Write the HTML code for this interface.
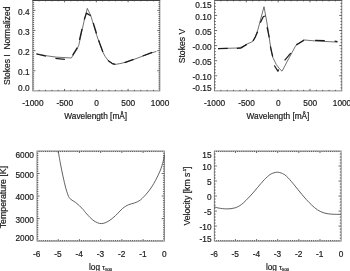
<!DOCTYPE html>
<html><head><meta charset="utf-8"><title>Stokes profiles and model atmosphere</title>
<style>
html,body{margin:0;padding:0;background:#fff;}
body{width:350px;height:271px;overflow:hidden;}
svg{display:block;will-change:transform;font-family:"Liberation Sans",sans-serif;fill:#1a1a1a;}
text{stroke:#1a1a1a;stroke-width:0.2;}
.s{fill:none;stroke:#333;stroke-width:0.7;stroke-linejoin:round;}
.s2{fill:none;stroke:#444;stroke-width:0.85;stroke-linejoin:round;}
.d{fill:none;stroke:#1c1c1c;stroke-width:1.25;stroke-linejoin:round;}
</style></head><body>
<svg width="350" height="271" viewBox="0 0 350 271">
<rect width="350" height="271" fill="#fff"/>
<rect x="32.8" y="0.33" width="127.05" height="90.57" fill="none" stroke="#666" stroke-width="0.8"/>
<path d="M39.15 90.9v-1.05M39.15 0.33v1.05M45.5 90.9v-1.05M45.5 0.33v1.05M51.86 90.9v-1.05M51.86 0.33v1.05M58.21 90.9v-1.05M58.21 0.33v1.05M64.56 90.9v-2M64.56 0.33v2M70.92 90.9v-1.05M70.92 0.33v1.05M77.27 90.9v-1.05M77.27 0.33v1.05M83.62 90.9v-1.05M83.62 0.33v1.05M89.97 90.9v-1.05M89.97 0.33v1.05M96.33 90.9v-2M96.33 0.33v2M102.68 90.9v-1.05M102.68 0.33v1.05M109.03 90.9v-1.05M109.03 0.33v1.05M115.38 90.9v-1.05M115.38 0.33v1.05M121.74 90.9v-1.05M121.74 0.33v1.05M128.09 90.9v-2M128.09 0.33v2M134.44 90.9v-1.05M134.44 0.33v1.05M140.79 90.9v-1.05M140.79 0.33v1.05M147.15 90.9v-1.05M147.15 0.33v1.05M153.5 90.9v-1.05M153.5 0.33v1.05M32.8 2.35h1.35M159.85 2.35h-1.35M32.8 4.36h1.35M159.85 4.36h-1.35M32.8 6.38h1.35M159.85 6.38h-1.35M32.8 8.39h1.35M159.85 8.39h-1.35M32.8 10.4h2.6M159.85 10.4h-2.6M32.8 12.41h1.35M159.85 12.41h-1.35M32.8 14.43h1.35M159.85 14.43h-1.35M32.8 16.44h1.35M159.85 16.44h-1.35M32.8 18.45h1.35M159.85 18.45h-1.35M32.8 20.46h1.35M159.85 20.46h-1.35M32.8 22.48h1.35M159.85 22.48h-1.35M32.8 24.49h1.35M159.85 24.49h-1.35M32.8 26.5h1.35M159.85 26.5h-1.35M32.8 28.51h1.35M159.85 28.51h-1.35M32.8 30.53h2.6M159.85 30.53h-2.6M32.8 32.54h1.35M159.85 32.54h-1.35M32.8 34.55h1.35M159.85 34.55h-1.35M32.8 36.56h1.35M159.85 36.56h-1.35M32.8 38.58h1.35M159.85 38.58h-1.35M32.8 40.59h1.35M159.85 40.59h-1.35M32.8 42.6h1.35M159.85 42.6h-1.35M32.8 44.61h1.35M159.85 44.61h-1.35M32.8 46.63h1.35M159.85 46.63h-1.35M32.8 48.64h1.35M159.85 48.64h-1.35M32.8 50.65h2.6M159.85 50.65h-2.6M32.8 52.66h1.35M159.85 52.66h-1.35M32.8 54.68h1.35M159.85 54.68h-1.35M32.8 56.69h1.35M159.85 56.69h-1.35M32.8 58.7h1.35M159.85 58.7h-1.35M32.8 60.71h1.35M159.85 60.71h-1.35M32.8 62.73h1.35M159.85 62.73h-1.35M32.8 64.74h1.35M159.85 64.74h-1.35M32.8 66.75h1.35M159.85 66.75h-1.35M32.8 68.76h1.35M159.85 68.76h-1.35M32.8 70.78h2.6M159.85 70.78h-2.6M32.8 72.79h1.35M159.85 72.79h-1.35M32.8 74.8h1.35M159.85 74.8h-1.35M32.8 76.81h1.35M159.85 76.81h-1.35M32.8 78.83h1.35M159.85 78.83h-1.35M32.8 80.84h1.35M159.85 80.84h-1.35M32.8 82.85h1.35M159.85 82.85h-1.35M32.8 84.86h1.35M159.85 84.86h-1.35M32.8 86.88h1.35M159.85 86.88h-1.35M32.8 88.89h1.35M159.85 88.89h-1.35" stroke="#2a2a2a" stroke-width="0.7" fill="none"/>
<text transform="translate(32.9 106.1) scale(0.96 1)" text-anchor="middle" font-size="8.65" >-1000</text>
<text transform="translate(64.76 106.1) scale(0.96 1)" text-anchor="middle" font-size="8.65" >-500</text>
<text transform="translate(96.52 106.1) scale(0.96 1)" text-anchor="middle" font-size="8.65" >0</text>
<text transform="translate(128.29 106.1) scale(0.96 1)" text-anchor="middle" font-size="8.65" >500</text>
<text transform="translate(160.05 106.1) scale(0.96 1)" text-anchor="middle" font-size="8.65" >1000</text>
<text transform="translate(29.6 91.2) scale(0.96 1)" text-anchor="end" font-size="8.65" >0.0</text>
<text transform="translate(29.6 75.03) scale(0.96 1)" text-anchor="end" font-size="8.65" >0.1</text>
<text transform="translate(29.6 54.9) scale(0.96 1)" text-anchor="end" font-size="8.65" >0.2</text>
<text transform="translate(29.6 34.78) scale(0.96 1)" text-anchor="end" font-size="8.65" >0.3</text>
<text transform="translate(29.6 14.65) scale(0.96 1)" text-anchor="end" font-size="8.65" >0.4</text>
<text transform="translate(95.7 118.9) scale(0.96 1)" text-anchor="middle" font-size="8.65" >Wavelength [mÅ]</text>
<text transform="translate(9.6 45.8) rotate(-90) scale(1 0.96)" text-anchor="middle" font-size="8.5">Stokes I&#160; Normalized</text>
<path d="M36.4 53.7L45.9 55.7L56.3 57.1L71.3 58L77 49.2L78.7 45.5L79.7 41L84.3 20L87.3 8.4L90.8 15.7L92.6 21.7L95.1 30L96.4 34.3L99.4 42.9L102.4 51.1L105 56.3L108.9 61.4L112.3 63.6L115.3 64.4L120 63.6L126 62.2L133.6 59.5L142.6 56.2L152.2 52.7L156.4 51.4" class="s"/>
<path d="M36.4 54L45.9 56.1" class="d"/>
<path d="M55.4 58.4L64.9 59.3" class="d"/>
<path d="M72.6 55.4L77.3 47.7" class="d"/>
<path d="M79.5 40L82 29" class="d"/>
<path d="M84.3 19.5L86.4 13.1L90.7 15.7" class="d"/>
<path d="M93.3 23L96.5 33.5" class="d"/>
<path d="M98.6 40.3L102.9 52" class="d"/>
<path d="M108 60.6L112.3 63.6L115.3 64.4" class="d"/>
<path d="M124.6 62.6L133.6 59.4" class="d"/>
<path d="M142.6 56L152.2 52.4" class="d"/>
<path d="M32.4 0.5H160.1M214.1 0.5H342.2" stroke="#404040" stroke-width="1" fill="none"/>
<rect x="214.5" y="0.33" width="127.3" height="90.57" fill="none" stroke="#666" stroke-width="0.8"/>
<path d="M220.87 90.9v-1.05M220.87 0.33v1.05M227.23 90.9v-1.05M227.23 0.33v1.05M233.59 90.9v-1.05M233.59 0.33v1.05M239.96 90.9v-1.05M239.96 0.33v1.05M246.32 90.9v-2M246.32 0.33v2M252.69 90.9v-1.05M252.69 0.33v1.05M259.06 90.9v-1.05M259.06 0.33v1.05M265.42 90.9v-1.05M265.42 0.33v1.05M271.78 90.9v-1.05M271.78 0.33v1.05M278.15 90.9v-2M278.15 0.33v2M284.51 90.9v-1.05M284.51 0.33v1.05M290.88 90.9v-1.05M290.88 0.33v1.05M297.24 90.9v-1.05M297.24 0.33v1.05M303.61 90.9v-1.05M303.61 0.33v1.05M309.97 90.9v-2M309.97 0.33v2M316.34 90.9v-1.05M316.34 0.33v1.05M322.7 90.9v-1.05M322.7 0.33v1.05M329.07 90.9v-1.05M329.07 0.33v1.05M335.43 90.9v-1.05M335.43 0.33v1.05M214.5 3.35h1.35M341.8 3.35h-1.35M214.5 6.37h1.35M341.8 6.37h-1.35M214.5 9.39h1.35M341.8 9.39h-1.35M214.5 12.41h1.35M341.8 12.41h-1.35M214.5 15.43h2.6M341.8 15.43h-2.6M214.5 18.44h1.35M341.8 18.44h-1.35M214.5 21.46h1.35M341.8 21.46h-1.35M214.5 24.48h1.35M341.8 24.48h-1.35M214.5 27.5h1.35M341.8 27.5h-1.35M214.5 30.52h2.6M341.8 30.52h-2.6M214.5 33.54h1.35M341.8 33.54h-1.35M214.5 36.56h1.35M341.8 36.56h-1.35M214.5 39.58h1.35M341.8 39.58h-1.35M214.5 42.6h1.35M341.8 42.6h-1.35M214.5 45.62h2.6M341.8 45.62h-2.6M214.5 48.63h1.35M341.8 48.63h-1.35M214.5 51.65h1.35M341.8 51.65h-1.35M214.5 54.67h1.35M341.8 54.67h-1.35M214.5 57.69h1.35M341.8 57.69h-1.35M214.5 60.71h2.6M341.8 60.71h-2.6M214.5 63.73h1.35M341.8 63.73h-1.35M214.5 66.75h1.35M341.8 66.75h-1.35M214.5 69.77h1.35M341.8 69.77h-1.35M214.5 72.79h1.35M341.8 72.79h-1.35M214.5 75.81h2.6M341.8 75.81h-2.6M214.5 78.82h1.35M341.8 78.82h-1.35M214.5 81.84h1.35M341.8 81.84h-1.35M214.5 84.86h1.35M341.8 84.86h-1.35M214.5 87.88h1.35M341.8 87.88h-1.35" stroke="#2a2a2a" stroke-width="0.7" fill="none"/>
<text transform="translate(214.6 106.1) scale(0.96 1)" text-anchor="middle" font-size="8.65" >-1000</text>
<text transform="translate(246.52 106.1) scale(0.96 1)" text-anchor="middle" font-size="8.65" >-500</text>
<text transform="translate(278.35 106.1) scale(0.96 1)" text-anchor="middle" font-size="8.65" >0</text>
<text transform="translate(310.18 106.1) scale(0.96 1)" text-anchor="middle" font-size="8.65" >500</text>
<text transform="translate(342 106.1) scale(0.96 1)" text-anchor="middle" font-size="8.65" >1000</text>
<text transform="translate(211.5 8.1) scale(0.96 1)" text-anchor="end" font-size="8.65" >0.15</text>
<text transform="translate(211.5 19.53) scale(0.96 1)" text-anchor="end" font-size="8.65" >0.10</text>
<text transform="translate(211.5 34.62) scale(0.96 1)" text-anchor="end" font-size="8.65" >0.05</text>
<text transform="translate(211.5 49.72) scale(0.96 1)" text-anchor="end" font-size="8.65" >-0.00</text>
<text transform="translate(211.5 64.81) scale(0.96 1)" text-anchor="end" font-size="8.65" >-0.05</text>
<text transform="translate(211.5 79.91) scale(0.96 1)" text-anchor="end" font-size="8.65" >-0.10</text>
<text transform="translate(211.5 91.3) scale(0.96 1)" text-anchor="end" font-size="8.65" >-0.15</text>
<text transform="translate(278 118.9) scale(0.96 1)" text-anchor="middle" font-size="8.65" >Wavelength [mÅ]</text>
<text transform="translate(184.5 46) rotate(-90) scale(1 0.96)" text-anchor="middle" font-size="8.65">Stokes V</text>
<path d="M218 48.6L236.9 48L242.1 47L246.8 44.2L252.5 41.6L255.1 37.4L257.8 30L264 6.7L266.8 22L268.1 30L271 50L272.7 57.2L276.3 64.5L279.4 68.6L282 71.2L285.1 65.5L288.8 58.3L293.4 50L295.8 45.4L303.6 39.9L316 41L337.3 42.1" class="s"/>
<path d="M218 48.7L227.7 48.4" class="d"/>
<path d="M236.9 48.3L240.7 48.1L246.8 44.4" class="d"/>
<path d="M253 41L255.1 37.4L257.6 31.8" class="d"/>
<path d="M260.3 22.7L263.4 16.5L265.5 16" class="d"/>
<path d="M267.1 27.2L269.2 37.5" class="d"/>
<path d="M270.4 46.3L272.7 56.7" class="d"/>
<path d="M274.3 65.5L277.9 71.2L278.7 69.5" class="d"/>
<path d="M284.6 60.3L290.8 53.1" class="d"/>
<path d="M296.3 44.9L304.1 40.3" class="d"/>
<path d="M315.1 40.3L324.8 40.7" class="d"/>
<path d="M334.6 41.2L337.5 41.6" class="d"/>
<rect x="37" y="151" width="127.3" height="90.1" fill="none" stroke="#666" stroke-width="0.8"/>
<path d="M39.12 241.1v-1.05M39.12 151v1.05M41.24 241.1v-1.05M41.24 151v1.05M43.37 241.1v-1.05M43.37 151v1.05M45.49 241.1v-1.05M45.49 151v1.05M47.61 241.1v-1.05M47.61 151v1.05M49.73 241.1v-1.05M49.73 151v1.05M51.85 241.1v-1.05M51.85 151v1.05M53.97 241.1v-1.05M53.97 151v1.05M56.09 241.1v-1.05M56.09 151v1.05M58.22 241.1v-2M58.22 151v2M60.34 241.1v-1.05M60.34 151v1.05M62.46 241.1v-1.05M62.46 151v1.05M64.58 241.1v-1.05M64.58 151v1.05M66.7 241.1v-1.05M66.7 151v1.05M68.83 241.1v-1.05M68.83 151v1.05M70.95 241.1v-1.05M70.95 151v1.05M73.07 241.1v-1.05M73.07 151v1.05M75.19 241.1v-1.05M75.19 151v1.05M77.31 241.1v-1.05M77.31 151v1.05M79.43 241.1v-2M79.43 151v2M81.56 241.1v-1.05M81.56 151v1.05M83.68 241.1v-1.05M83.68 151v1.05M85.8 241.1v-1.05M85.8 151v1.05M87.92 241.1v-1.05M87.92 151v1.05M90.04 241.1v-1.05M90.04 151v1.05M92.16 241.1v-1.05M92.16 151v1.05M94.29 241.1v-1.05M94.29 151v1.05M96.41 241.1v-1.05M96.41 151v1.05M98.53 241.1v-1.05M98.53 151v1.05M100.65 241.1v-2M100.65 151v2M102.77 241.1v-1.05M102.77 151v1.05M104.89 241.1v-1.05M104.89 151v1.05M107.02 241.1v-1.05M107.02 151v1.05M109.14 241.1v-1.05M109.14 151v1.05M111.26 241.1v-1.05M111.26 151v1.05M113.38 241.1v-1.05M113.38 151v1.05M115.5 241.1v-1.05M115.5 151v1.05M117.62 241.1v-1.05M117.62 151v1.05M119.75 241.1v-1.05M119.75 151v1.05M121.87 241.1v-2M121.87 151v2M123.99 241.1v-1.05M123.99 151v1.05M126.11 241.1v-1.05M126.11 151v1.05M128.23 241.1v-1.05M128.23 151v1.05M130.35 241.1v-1.05M130.35 151v1.05M132.48 241.1v-1.05M132.48 151v1.05M134.6 241.1v-1.05M134.6 151v1.05M136.72 241.1v-1.05M136.72 151v1.05M138.84 241.1v-1.05M138.84 151v1.05M140.96 241.1v-1.05M140.96 151v1.05M143.08 241.1v-2M143.08 151v2M145.21 241.1v-1.05M145.21 151v1.05M147.33 241.1v-1.05M147.33 151v1.05M149.45 241.1v-1.05M149.45 151v1.05M151.57 241.1v-1.05M151.57 151v1.05M153.69 241.1v-1.05M153.69 151v1.05M155.81 241.1v-1.05M155.81 151v1.05M157.94 241.1v-1.05M157.94 151v1.05M160.06 241.1v-1.05M160.06 151v1.05M162.18 241.1v-1.05M162.18 151v1.05M37 153.25h1.35M164.3 153.25h-1.35M37 155.5h1.35M164.3 155.5h-1.35M37 157.76h1.35M164.3 157.76h-1.35M37 160.01h1.35M164.3 160.01h-1.35M37 162.26h1.35M164.3 162.26h-1.35M37 164.52h1.35M164.3 164.52h-1.35M37 166.77h1.35M164.3 166.77h-1.35M37 169.02h1.35M164.3 169.02h-1.35M37 171.27h1.35M164.3 171.27h-1.35M37 173.53h2.6M164.3 173.53h-2.6M37 175.78h1.35M164.3 175.78h-1.35M37 178.03h1.35M164.3 178.03h-1.35M37 180.28h1.35M164.3 180.28h-1.35M37 182.53h1.35M164.3 182.53h-1.35M37 184.79h1.35M164.3 184.79h-1.35M37 187.04h1.35M164.3 187.04h-1.35M37 189.29h1.35M164.3 189.29h-1.35M37 191.55h1.35M164.3 191.55h-1.35M37 193.8h1.35M164.3 193.8h-1.35M37 196.05h2.6M164.3 196.05h-2.6M37 198.3h1.35M164.3 198.3h-1.35M37 200.56h1.35M164.3 200.56h-1.35M37 202.81h1.35M164.3 202.81h-1.35M37 205.06h1.35M164.3 205.06h-1.35M37 207.31h1.35M164.3 207.31h-1.35M37 209.56h1.35M164.3 209.56h-1.35M37 211.82h1.35M164.3 211.82h-1.35M37 214.07h1.35M164.3 214.07h-1.35M37 216.32h1.35M164.3 216.32h-1.35M37 218.58h2.6M164.3 218.58h-2.6M37 220.83h1.35M164.3 220.83h-1.35M37 223.08h1.35M164.3 223.08h-1.35M37 225.33h1.35M164.3 225.33h-1.35M37 227.59h1.35M164.3 227.59h-1.35M37 229.84h1.35M164.3 229.84h-1.35M37 232.09h1.35M164.3 232.09h-1.35M37 234.34h1.35M164.3 234.34h-1.35M37 236.6h1.35M164.3 236.6h-1.35M37 238.85h1.35M164.3 238.85h-1.35" stroke="#2a2a2a" stroke-width="0.7" fill="none"/>
<text transform="translate(36.8 257) scale(0.96 1)" text-anchor="middle" font-size="8.65" >-6</text>
<text transform="translate(58.02 257) scale(0.96 1)" text-anchor="middle" font-size="8.65" >-5</text>
<text transform="translate(79.23 257) scale(0.96 1)" text-anchor="middle" font-size="8.65" >-4</text>
<text transform="translate(100.45 257) scale(0.96 1)" text-anchor="middle" font-size="8.65" >-3</text>
<text transform="translate(121.67 257) scale(0.96 1)" text-anchor="middle" font-size="8.65" >-2</text>
<text transform="translate(142.88 257) scale(0.96 1)" text-anchor="middle" font-size="8.65" >-1</text>
<text transform="translate(164.3 257) scale(0.96 1)" text-anchor="middle" font-size="8.65" >0</text>
<text transform="translate(33.9 158.2) scale(0.96 1)" text-anchor="end" font-size="8.65" >6000</text>
<text transform="translate(33.9 177.93) scale(0.96 1)" text-anchor="end" font-size="8.65" >5000</text>
<text transform="translate(33.9 200.15) scale(0.96 1)" text-anchor="end" font-size="8.65" >4000</text>
<text transform="translate(33.9 223.27) scale(0.96 1)" text-anchor="end" font-size="8.65" >3000</text>
<text transform="translate(33.9 241.3) scale(0.96 1)" text-anchor="end" font-size="8.65" >2000</text>
<text transform="translate(89 269.7) scale(0.96 1)" font-size="8.65">log <tspan font-size="7.5">τ</tspan><tspan font-size="4.3" dy="1.2">500</tspan></text>
<text transform="translate(6.3 197.1) rotate(-90) scale(1 0.96)" text-anchor="middle" font-size="8.8">Temperature [K]</text>
<path d="M58.2 151C58.58 153.17 59.72 159.85 60.5 164C61.28 168.15 61.98 171.75 62.9 175.9C63.82 180.05 65.05 185.48 66 188.9C66.95 192.32 67.78 194.65 68.6 196.4C69.42 198.15 69.77 198.42 70.9 199.4C72.03 200.38 74 201.27 75.4 202.3C76.8 203.33 78.02 204.4 79.3 205.6C80.58 206.8 81.85 208.1 83.1 209.5C84.35 210.9 84.98 212.1 86.8 214C88.62 215.9 91.57 219.3 94 220.9C96.43 222.5 98.92 223.6 101.4 223.6C103.88 223.6 106.57 222.22 108.9 220.9C111.23 219.58 113.08 217.8 115.4 215.7C117.72 213.6 120.58 210.13 122.8 208.3C125.02 206.47 126.73 205.6 128.7 204.7C130.67 203.8 132.63 203.7 134.6 202.9C136.57 202.1 138.27 201.72 140.5 199.9C142.73 198.08 145.77 194.77 148 192C150.23 189.23 151.9 186.78 153.9 183.3C155.9 179.82 158.45 174.75 160 171.1C161.55 167.45 162.47 164.03 163.2 161.4C163.93 158.77 164.2 156.32 164.4 155.3" class="s2"/>
<rect x="214.3" y="151" width="126.8" height="90.1" fill="none" stroke="#666" stroke-width="0.8"/>
<path d="M216.41 241.1v-1.05M216.41 151v1.05M218.53 241.1v-1.05M218.53 151v1.05M220.64 241.1v-1.05M220.64 151v1.05M222.75 241.1v-1.05M222.75 151v1.05M224.87 241.1v-1.05M224.87 151v1.05M226.98 241.1v-1.05M226.98 151v1.05M229.09 241.1v-1.05M229.09 151v1.05M231.21 241.1v-1.05M231.21 151v1.05M233.32 241.1v-1.05M233.32 151v1.05M235.43 241.1v-2M235.43 151v2M237.55 241.1v-1.05M237.55 151v1.05M239.66 241.1v-1.05M239.66 151v1.05M241.77 241.1v-1.05M241.77 151v1.05M243.89 241.1v-1.05M243.89 151v1.05M246 241.1v-1.05M246 151v1.05M248.11 241.1v-1.05M248.11 151v1.05M250.23 241.1v-1.05M250.23 151v1.05M252.34 241.1v-1.05M252.34 151v1.05M254.45 241.1v-1.05M254.45 151v1.05M256.57 241.1v-2M256.57 151v2M258.68 241.1v-1.05M258.68 151v1.05M260.79 241.1v-1.05M260.79 151v1.05M262.91 241.1v-1.05M262.91 151v1.05M265.02 241.1v-1.05M265.02 151v1.05M267.13 241.1v-1.05M267.13 151v1.05M269.25 241.1v-1.05M269.25 151v1.05M271.36 241.1v-1.05M271.36 151v1.05M273.47 241.1v-1.05M273.47 151v1.05M275.59 241.1v-1.05M275.59 151v1.05M277.7 241.1v-2M277.7 151v2M279.81 241.1v-1.05M279.81 151v1.05M281.93 241.1v-1.05M281.93 151v1.05M284.04 241.1v-1.05M284.04 151v1.05M286.15 241.1v-1.05M286.15 151v1.05M288.27 241.1v-1.05M288.27 151v1.05M290.38 241.1v-1.05M290.38 151v1.05M292.49 241.1v-1.05M292.49 151v1.05M294.61 241.1v-1.05M294.61 151v1.05M296.72 241.1v-1.05M296.72 151v1.05M298.83 241.1v-2M298.83 151v2M300.95 241.1v-1.05M300.95 151v1.05M303.06 241.1v-1.05M303.06 151v1.05M305.17 241.1v-1.05M305.17 151v1.05M307.29 241.1v-1.05M307.29 151v1.05M309.4 241.1v-1.05M309.4 151v1.05M311.51 241.1v-1.05M311.51 151v1.05M313.63 241.1v-1.05M313.63 151v1.05M315.74 241.1v-1.05M315.74 151v1.05M317.85 241.1v-1.05M317.85 151v1.05M319.97 241.1v-2M319.97 151v2M322.08 241.1v-1.05M322.08 151v1.05M324.19 241.1v-1.05M324.19 151v1.05M326.31 241.1v-1.05M326.31 151v1.05M328.42 241.1v-1.05M328.42 151v1.05M330.53 241.1v-1.05M330.53 151v1.05M332.65 241.1v-1.05M332.65 151v1.05M334.76 241.1v-1.05M334.76 151v1.05M336.87 241.1v-1.05M336.87 151v1.05M338.99 241.1v-1.05M338.99 151v1.05M214.3 154h1.35M341.1 154h-1.35M214.3 157.01h1.35M341.1 157.01h-1.35M214.3 160.01h1.35M341.1 160.01h-1.35M214.3 163.01h1.35M341.1 163.01h-1.35M214.3 166.02h2.6M341.1 166.02h-2.6M214.3 169.02h1.35M341.1 169.02h-1.35M214.3 172.02h1.35M341.1 172.02h-1.35M214.3 175.03h1.35M341.1 175.03h-1.35M214.3 178.03h1.35M341.1 178.03h-1.35M214.3 181.03h2.6M341.1 181.03h-2.6M214.3 184.04h1.35M341.1 184.04h-1.35M214.3 187.04h1.35M341.1 187.04h-1.35M214.3 190.04h1.35M341.1 190.04h-1.35M214.3 193.05h1.35M341.1 193.05h-1.35M214.3 196.05h2.6M341.1 196.05h-2.6M214.3 199.05h1.35M341.1 199.05h-1.35M214.3 202.06h1.35M341.1 202.06h-1.35M214.3 205.06h1.35M341.1 205.06h-1.35M214.3 208.06h1.35M341.1 208.06h-1.35M214.3 211.07h2.6M341.1 211.07h-2.6M214.3 214.07h1.35M341.1 214.07h-1.35M214.3 217.07h1.35M341.1 217.07h-1.35M214.3 220.08h1.35M341.1 220.08h-1.35M214.3 223.08h1.35M341.1 223.08h-1.35M214.3 226.08h2.6M341.1 226.08h-2.6M214.3 229.09h1.35M341.1 229.09h-1.35M214.3 232.09h1.35M341.1 232.09h-1.35M214.3 235.09h1.35M341.1 235.09h-1.35M214.3 238.1h1.35M341.1 238.1h-1.35" stroke="#2a2a2a" stroke-width="0.7" fill="none"/>
<text transform="translate(214.1 257) scale(0.96 1)" text-anchor="middle" font-size="8.65" >-6</text>
<text transform="translate(235.23 257) scale(0.96 1)" text-anchor="middle" font-size="8.65" >-5</text>
<text transform="translate(256.37 257) scale(0.96 1)" text-anchor="middle" font-size="8.65" >-4</text>
<text transform="translate(277.5 257) scale(0.96 1)" text-anchor="middle" font-size="8.65" >-3</text>
<text transform="translate(298.63 257) scale(0.96 1)" text-anchor="middle" font-size="8.65" >-2</text>
<text transform="translate(319.77 257) scale(0.96 1)" text-anchor="middle" font-size="8.65" >-1</text>
<text transform="translate(341.1 257) scale(0.96 1)" text-anchor="middle" font-size="8.65" >0</text>
<text transform="translate(211.5 158.2) scale(0.96 1)" text-anchor="end" font-size="8.65" >15</text>
<text transform="translate(211.5 170.32) scale(0.96 1)" text-anchor="end" font-size="8.65" >10</text>
<text transform="translate(211.5 185.33) scale(0.96 1)" text-anchor="end" font-size="8.65" >5</text>
<text transform="translate(211.5 200.35) scale(0.96 1)" text-anchor="end" font-size="8.65" >0</text>
<text transform="translate(211.5 215.37) scale(0.96 1)" text-anchor="end" font-size="8.65" >-5</text>
<text transform="translate(211.5 230.38) scale(0.96 1)" text-anchor="end" font-size="8.65" >-10</text>
<text transform="translate(211.5 241.6) scale(0.96 1)" text-anchor="end" font-size="8.65" >-15</text>
<text transform="translate(265.9 269.7) scale(0.96 1)" font-size="8.65">log <tspan font-size="7.5">τ</tspan><tspan font-size="4.3" dy="1.2">500</tspan></text>
<text transform="translate(190.2 196) rotate(-90) scale(1 0.96)" text-anchor="middle" font-size="8.65">Velocity [km s<tspan font-size="4.2" dy="-4">-1</tspan><tspan dy="4">]</tspan></text>
<path d="M214.5 206.9C215.23 207.1 216.83 207.77 218.9 208.1C220.97 208.43 224.23 208.93 226.9 208.9C229.57 208.87 232.43 208.67 234.9 207.9C237.37 207.13 239.13 206.3 241.7 204.3C244.27 202.3 247.68 198.67 250.3 195.9C252.92 193.13 255.07 190.4 257.4 187.7C259.73 185 262.2 181.88 264.3 179.7C266.4 177.52 268.38 175.75 270 174.6C271.62 173.45 272.75 173.2 274 172.8C275.25 172.4 276.27 172.15 277.5 172.2C278.73 172.25 279.93 172.47 281.4 173.1C282.87 173.73 284.32 174.22 286.3 176C288.28 177.78 291.03 181.13 293.3 183.8C295.57 186.47 297.72 189.37 299.9 192C302.08 194.63 304.4 197.4 306.4 199.6C308.4 201.8 310.07 203.5 311.9 205.2C313.73 206.9 315.53 208.57 317.4 209.8C319.27 211.03 321.18 211.92 323.1 212.6C325.02 213.28 326.98 213.62 328.9 213.9C330.82 214.18 332.6 214.22 334.6 214.3C336.6 214.38 339.85 214.38 340.9 214.4" class="s2"/>
</svg>
</body></html>
